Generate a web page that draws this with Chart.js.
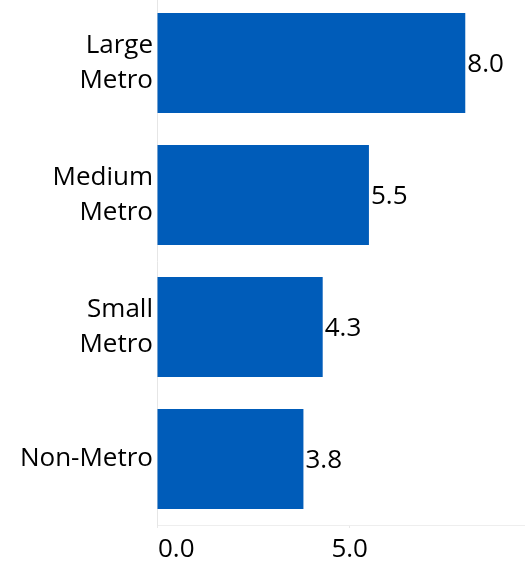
<!DOCTYPE html>
<html>
<head>
<meta charset="utf-8">
<script src="https://cdn.jsdelivr.net/npm/chart.js@4/dist/chart.umd.min.js"></script>
<style>
  html, body { margin: 0; padding: 0; background: #fff; overflow: hidden; }
  #wrap { position: absolute; left: 0; top: -3px; width: 525px; height: 568px; }
</style>
</head>
<body>
<div id="wrap"><canvas id="chart1"></canvas></div>
<script>
var categories = [['Large', 'Metro'], ['Medium', 'Metro'], ['Small', 'Metro'], 'Non-Metro'];
var values = [8.0, 5.5, 4.3, 3.8];
var xTicks = [0, 5];

var fontFamily = '"Open Sans", sans-serif';
var fontSize = 26;

// value labels at the end of each bar, and x tick labels (first one left aligned)
var labelPlugin = {
    id: 'labels',
    afterDatasetsDraw: function(chart) {
        var ctx = chart.ctx;
        var meta = chart.getDatasetMeta(0);
        ctx.save();
        ctx.font = fontSize + 'px ' + fontFamily;
        ctx.fillStyle = '#000';
        ctx.textBaseline = 'middle';
        ctx.textAlign = 'left';
        meta.data.forEach(function(bar, i) {
            ctx.fillText(values[i].toFixed(1), bar.x + 2, bar.y + 2);
        });
        var xs = chart.scales.x;
        ctx.textBaseline = 'top';
        xTicks.forEach(function(t, i) {
            ctx.textAlign = i === 0 ? 'left' : 'center';
            var px = xs.getPixelForValue(t);
            ctx.fillText(t.toFixed(1), i === 0 ? px + 1 : px, xs.top + 12);
        });
        ctx.restore();
    }
};

var ctx = document.getElementById('chart1');
var myChart = new Chart(ctx, {
    type: 'bar',
    data: {
        labels: categories,
        datasets: [{
            data: values,
            backgroundColor: '#005CB9',
            barPercentage: 0.758,
            categoryPercentage: 1.0
        }]
    },
    options: {
        indexAxis: 'y',
        responsive: true,
        maintainAspectRatio: false,
        animation: false,
        layout: { padding: 0 },
        plugins: {
            legend: { display: false },
            tooltip: { enabled: false }
        },
        scales: {
            x: {
                min: 0,
                max: 9.55,
                afterBuildTicks: function(s) {
                    s.ticks = xTicks.map(function(v) { return { value: v }; });
                },
                afterFit: function(s) { s.height = 40; s.paddingLeft = 0; s.paddingRight = 0; },
                ticks: { display: false },
                grid: { drawOnChartArea: false, drawTicks: true, tickLength: 3, color: '#e8e8e8' },
                border: { color: '#eeeeee' }
            },
            y: {
                afterFit: function(s) { s.width = 157; s.paddingTop = 0; s.paddingBottom = 0; },
                ticks: {
                    color: '#000',
                    padding: -4,
                    font: { family: fontFamily, size: fontSize, lineHeight: 1.35 }
                },
                grid: { display: false },
                border: { color: '#e6e6e6' }
            }
        }
    },
    plugins: [labelPlugin]
});
</script>
</body>
</html>
